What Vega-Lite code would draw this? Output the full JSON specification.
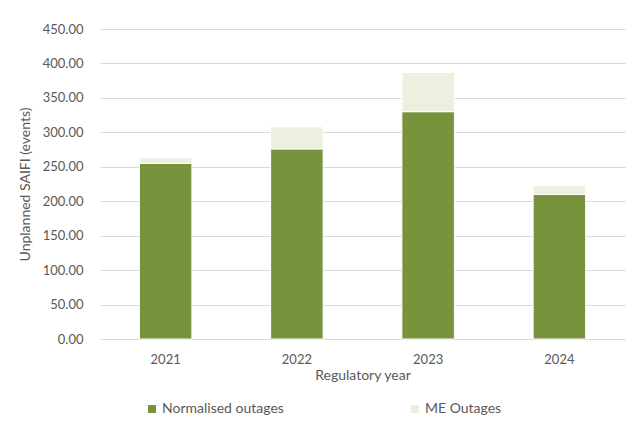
{
  "$schema": "https://vega.github.io/schema/vega-lite/v6.json",
  "autosize": {"type": "none"},
  "width": 525,
  "height": 310,
  "padding": {"left": 100, "top": 29, "right": 18, "bottom": 93},
  "background": "white",
  "data": {
    "values": [
      {"year": "2021", "series": "Normalised outages", "ord": 1, "value": 255},
      {"year": "2021", "series": "ME Outages", "ord": 2, "value": 8},
      {"year": "2022", "series": "Normalised outages", "ord": 1, "value": 276},
      {"year": "2022", "series": "ME Outages", "ord": 2, "value": 32},
      {"year": "2023", "series": "Normalised outages", "ord": 1, "value": 330},
      {"year": "2023", "series": "ME Outages", "ord": 2, "value": 57},
      {"year": "2024", "series": "Normalised outages", "ord": 1, "value": 210},
      {"year": "2024", "series": "ME Outages", "ord": 2, "value": 12.5}
    ]
  },
  "mark": {"type": "bar", "stroke": "white", "strokeWidth": 1},
  "encoding": {
    "x": {
      "field": "year", "type": "nominal",
      "scale": {"paddingInner": 0.6, "paddingOuter": 0.3},
      "axis": {
        "title": "Regulatory year", "labelAngle": 0, "ticks": false,
        "domainColor": "#D9D9D9", "labelPadding": 14, "titlePadding": 2,
        "labelFont": "Lato", "labelFontSize": 13, "labelColor": "#595959",
        "titleFont": "Lato", "titleFontSize": 14, "titleFontWeight": "normal", "titleColor": "#595959"
      }
    },
    "y": {
      "field": "value", "type": "quantitative", "stack": "zero",
      "scale": {"domain": [0, 450]},
      "axis": {
        "title": "Unplanned SAIFI (events)", "format": ".2f", "values": [0,50,100,150,200,250,300,350,400,450],
        "domain": false, "ticks": false, "gridColor": "#D9D9D9", "labelPadding": 17,
        "labelFont": "Lato", "labelFontSize": 13, "labelColor": "#595959",
        "titleFont": "Lato", "titleFontSize": 14, "titleFontWeight": "normal", "titleColor": "#595959", "titlePadding": 10
      }
    },
    "color": {
      "field": "series", "type": "nominal",
      "scale": {"domain": ["Normalised outages", "ME Outages"], "range": ["#77933C", "#EBF1DE"]},
      "legend": {
        "title": null, "orient": "none", "direction": "horizontal",
        "legendX": 45, "legendY": 373, "symbolType": "square", "symbolSize": 64,
        "symbolStrokeWidth": 0, "columnPadding": 124, "labelOffset": 3,
        "labelFont": "Lato", "labelFontSize": 14, "labelColor": "#595959", "labelLimit": 300
      }
    },
    "order": {"field": "ord", "type": "quantitative"}
  },
  "config": {"view": {"stroke": null}}
}
